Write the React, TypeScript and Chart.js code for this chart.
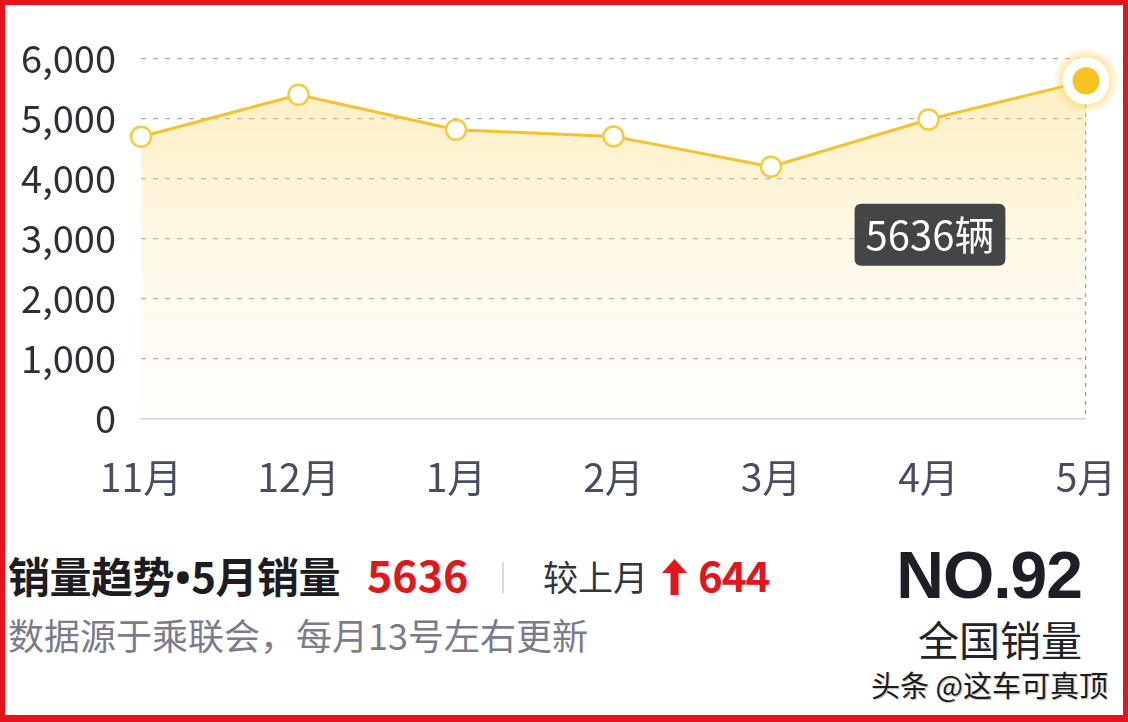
import React, { useEffect, useRef } from 'react';
import { Chart, registerables, Tooltip } from 'chart.js';

Chart.register(...registerables);

// ---- data ----
const months = ['11月', '12月', '1月', '2月', '3月', '4月', '5月'];
const sales = [4705, 5405, 4820, 4710, 4205, 4992, 5636];
const yMin = 0;
const yMax = 6000;
const yStep = 1000;
const unit = '辆';
const highlightIndex = 6;

const titleA = '销量趋势';
const titleDot = '•';
const titleB = '5月销量';
const monthSales = '5636';
const compareLabel = '较上月';
const compareDelta = '644';
const sourceText = '数据源于乘联会，每月13号左右更新';
const rankText = 'NO.92';
const rankLabel = '全国销量';
const watermark = '头条 @这车可真顶';

const CJK = '"Noto Sans CJK SC", "Noto Sans", sans-serif';
const LINE = '#f4c22e';
const RED = '#e3161d';

(Tooltip.positioners as any).nearPoint = function (items: any[]) {
  if (!items.length) return false;
  const el = items[0].element;
  return { x: el.x - 156, y: el.y + 154 };
};

const glowPlugin = {
  id: 'glow',
  beforeDatasetsDraw(chart: any) {
    const meta = chart.getDatasetMeta(0);
    const pt = meta.data[highlightIndex];
    if (!pt) return;
    const ctx = chart.ctx;
    ctx.save();
    const g = ctx.createRadialGradient(pt.x, pt.y, 21, pt.x, pt.y, 33);
    g.addColorStop(0, 'rgba(250,205,70,0.6)');
    g.addColorStop(1, 'rgba(250,205,70,0)');
    ctx.fillStyle = g;
    ctx.beginPath();
    ctx.arc(pt.x, pt.y, 33, 0, Math.PI * 2);
    ctx.fill();
    ctx.restore();
  },
};

function SalesChart() {
  const ref = useRef<HTMLCanvasElement | null>(null);
  useEffect(() => {
    if (!ref.current) return;
    const n = sales.length;
    const chart = new Chart(ref.current, {
      type: 'line',
      data: {
        labels: months,
        datasets: [
          {
            data: sales,
            borderColor: LINE,
            borderWidth: 3,
            tension: 0,
            clip: false as any,
            fill: 'origin',
            backgroundColor: (c: any) => {
              const area = c.chart.chartArea;
              if (!area) return 'rgba(252,215,110,0.2)';
              const g = c.chart.ctx.createLinearGradient(0, area.top, 0, area.bottom);
              g.addColorStop(0, 'rgba(252,212,100,0.42)');
              g.addColorStop(0.55, 'rgba(252,218,120,0.18)');
              g.addColorStop(1, 'rgba(252,225,150,0.03)');
              return g;
            },
            pointRadius: sales.map((_, i) => (i === highlightIndex ? 18.5 : 10)),
            pointBorderWidth: sales.map((_, i) => (i === highlightIndex ? 10 : 2.5)),
            pointBackgroundColor: sales.map((_, i) => (i === highlightIndex ? '#f6c325' : '#ffffff')),
            pointBorderColor: sales.map((_, i) => (i === highlightIndex ? '#ffffff' : '#f6cb3c')),
          },
        ],
      },
      options: {
        responsive: false,
        animation: false,
        events: [],
        layout: { padding: { left: 0, right: 42, top: 59, bottom: 21 } },
        plugins: {
          legend: { display: false },
          tooltip: {
            enabled: true,
            position: 'nearPoint' as any,
            xAlign: 'center',
            yAlign: 'center',
            caretSize: 0,
            displayColors: false,
            backgroundColor: 'rgba(52,53,57,0.92)',
            cornerRadius: 7,
            padding: { left: 11, right: 11, top: 7, bottom: 7 },
            bodyFont: { family: CJK, size: 40, lineHeight: 1.2 },
            bodyColor: '#ffffff',
            bodyAlign: 'center',
            callbacks: {
              title: () => '',
              label: (item: any) => `${item.raw}${unit}`,
            },
          },
        },
        scales: {
          x: {
            type: 'category',
            offset: false,
            afterFit: (s: any) => {
              s.height = 80;
              s.paddingLeft = 0;
              s.paddingRight = 0;
            },
            grid: {
              drawTicks: false,
              lineWidth: 1.2,
              color: (c: any) => (c.index === n - 1 ? 'rgba(120,125,140,0.8)' : 'rgba(0,0,0,0)'),
            },
            border: { display: true, color: '#cdd3de', width: 1.5, dash: [4, 5] },
            ticks: {
              autoSkip: false,
              maxRotation: 0,
              padding: 35,
              color: '#4a4d60',
              font: { family: CJK, size: 39 },
            },
          },
          y: {
            min: yMin,
            max: yMax,
            afterFit: (s: any) => {
              s.width = 141;
              s.paddingTop = 0;
              s.paddingBottom = 0;
            },
            grid: {
              drawTicks: false,
              lineWidth: 1.2,
              color: (c: any) => (c.tick && c.tick.value === 0 ? 'rgba(0,0,0,0)' : 'rgba(140,150,170,0.8)'),
            },
            border: { display: false, dash: [5, 7] },
            ticks: {
              stepSize: yStep,
              padding: 25,
              color: '#2d2e38',
              font: { family: CJK, size: 38 },
              callback: (v: any) => Number(v).toLocaleString('en-US'),
            },
          },
        },
      },
      plugins: [glowPlugin],
    });
    chart.tooltip?.setActiveElements([{ datasetIndex: 0, index: highlightIndex }], { x: 0, y: 0 });
    chart.update();
    return () => chart.destroy();
  }, []);
  return <canvas ref={ref} width={1128} height={520} style={{ width: 1128, height: 520, display: 'block' }} />;
}

const abs = (o: React.CSSProperties): React.CSSProperties => ({
  position: 'absolute',
  lineHeight: 1,
  whiteSpace: 'nowrap',
  fontFamily: CJK,
  ...o,
});

export default function App() {
  return (
    <div
      style={{
        position: 'absolute',
        left: 0,
        top: 0,
        width: 1128,
        height: 722,
        background: '#ffffff',
        overflow: 'hidden',
      }}
    >
      <div style={{ position: 'absolute', left: 0, top: 0 }}>
        <SalesChart />
      </div>

      <div style={abs({ left: 8, top: 554, fontSize: 42, fontWeight: 700, color: '#1c1c22', letterSpacing: -0.5 })}>
        {titleA}
        <span style={{ fontFamily: '"Noto Sans", sans-serif', margin: '0 1px' }}>{titleDot}</span>
        {titleB}
      </div>
      <div style={abs({ left: 367, top: 552, fontSize: 43, fontWeight: 700, color: RED })}>{monthSales}</div>
      <div style={{ position: 'absolute', left: 502, top: 562, width: 2, height: 31, background: '#d9d9de' }} />
      <div style={abs({ left: 543, top: 558, fontSize: 35, color: '#33343c' })}>{compareLabel}</div>
      <svg
        style={{ position: 'absolute', left: 662, top: 559 }}
        width={25}
        height={36}
        viewBox="0 0 25 36"
      >
        <path d="M12.5 0 L25 14 L16.5 14 L16.5 36 L8.5 36 L8.5 14 L0 14 Z" fill={RED} />
      </svg>
      <div style={abs({ left: 698, top: 553, fontSize: 42, fontWeight: 700, color: RED, letterSpacing: -1 })}>{compareDelta}</div>
      <div style={abs({ left: 8, top: 616, fontSize: 36, color: '#7b7b8c' })}>{sourceText}</div>

      <div
        style={abs({
          right: 46,
          top: 542,
          fontSize: 66,
          fontWeight: 700,
          letterSpacing: -1,
          color: '#1e1f26',
          fontFamily: '"Liberation Sans", Arial, sans-serif',
        })}
      >
        {rankText}
      </div>
      <div style={abs({ right: 46, top: 618, fontSize: 41, color: '#222228' })}>{rankLabel}</div>
      <div
        style={abs({
          right: 20,
          top: 670,
          fontSize: 29,
          color: '#1a1a1a',
          textShadow: '0 0 2px #fff, 1px 1px 1px rgba(0,0,0,0.35)',
        })}
      >
        {watermark}
      </div>

      <div
        style={{
          position: 'absolute',
          left: 0,
          top: 0,
          width: 1128,
          height: 722,
          boxSizing: 'border-box',
          borderStyle: 'solid',
          borderColor: '#e5131b',
          borderWidth: '5px 5px 7px 5px',
          pointerEvents: 'none',
        }}
      />
    </div>
  );
}
